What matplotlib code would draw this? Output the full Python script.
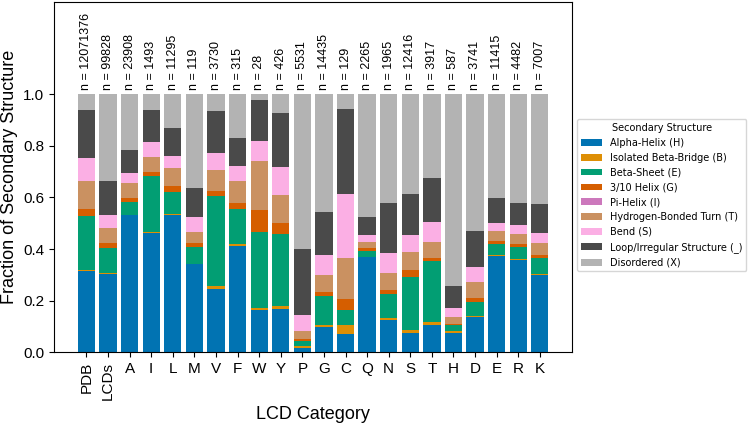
"""
plot.py - stacked secondary structure fractions per LCD category.
"""

import matplotlib
matplotlib.use("Agg")
import matplotlib.pyplot as plt
import numpy as np

# ---------------------------------------------------------------------------
# Data
# ---------------------------------------------------------------------------

categories = ["PDB", "LCDs", "A", "I", "L", "M", "V", "F", "W", "Y", "P",
              "G", "C", "Q", "N", "S", "T", "H", "D", "E", "R", "K"]
counts = [12071376, 99828, 23908, 1493, 11295, 119, 3730, 315, 28, 426, 5531,
          14435, 129, 2265, 1965, 12416, 3917, 587, 3741, 11415, 4482, 7007]

structures = ["Alpha-Helix (H)", "Isolated Beta-Bridge (B)", "Beta-Sheet (E)",
              "3/10 Helix (G)", "Pi-Helix (I)", "Hydrogen-Bonded Turn (T)",
              "Bend (S)", "Loop/Irregular Structure (_)", "Disordered (X)"]
colors = ["#0173b2", "#de8f05", "#029e73", "#d55e00", "#cc78bc",
          "#ca9161", "#fbafe4", "#4a4a4a", "#b3b3b3"]

helix_h  = [.313, .303, .531, .463, .533, .341, .246, .413, .163, .168, .018,
            .099, .072, .368, .124, .076, .105, .076, .137, .374, .356, .300]
bridge_b = [.007, .004, .002, .004, .003, .002, .009, .005, .007, .012, .007,
            .008, .032, .002, .010, .009, .013, .005, .003, .002, .006, .005]
sheet_e  = [.207, .098, .049, .214, .086, .066, .350, .138, .295, .280, .019,
            .112, .059, .024, .092, .206, .237, .025, .054, .045, .047, .059]
helix_g  = [.029, .017, .017, .016, .022, .015, .018, .024, .085, .039, .009,
            .016, .045, .009, .016, .027, .012, .004, .018, .010, .009, .012]
helix_i  = [0.0] * 22
turn_t   = [.109, .058, .056, .061, .070, .043, .083, .085, .192, .111, .028,
            .064, .159, .025, .064, .070, .060, .025, .059, .038, .041, .046]
bend_s   = [.086, .051, .041, .057, .048, .057, .066, .058, .076, .109, .063,
            .079, .245, .026, .080, .065, .076, .036, .060, .032, .033, .040]
loop_c   = [.187, .131, .089, .125, .105, .113, .163, .105, .158, .208, .256,
            .164, .329, .070, .194, .159, .171, .085, .137, .095, .086, .114]
disorder = [.062, .338, .215, .060, .133, .363, .065, .172, .024, .073, .600,
            .458, .059, .476, .420, .388, .326, .744, .532, .404, .422, .424]

series = [helix_h, bridge_b, sheet_e, helix_g, helix_i, turn_t, bend_s,
          loop_c, disorder]

# ---------------------------------------------------------------------------
# Plot
# ---------------------------------------------------------------------------

plt.rcParams["font.family"] = ["Liberation Sans", "DejaVu Sans"]

fig = plt.figure(figsize=(7.5, 4.25), dpi=100)
ax = fig.add_axes([0.072, 0.171, 0.691, 0.824])

x = np.arange(len(categories))
bottom = np.zeros(len(categories))
handles = []
for name, vals, col in zip(structures, series, colors):
    vals = np.array(vals)
    b = ax.bar(x, vals, 0.8, bottom=bottom, color=col, label=name, linewidth=0)
    handles.append(b)
    bottom += vals

for xi, n in zip(x, counts):
    ax.text(xi, 1.015, f"n = {n}", rotation=90, ha="center", va="bottom",
            fontsize=9)

ax.set_xlim(-1.5, len(categories) + 0.5)
ax.set_ylim(0, 1.356)
ax.set_yticks([0.0, 0.2, 0.4, 0.6, 0.8, 1.0])
ax.set_xticks(x)
ax.set_xticklabels(categories, fontsize=11)
for lbl in ax.get_xticklabels()[:2]:
    lbl.set_rotation(90)
ax.tick_params(axis="y", labelsize=11)
ax.set_xlabel("LCD Category", fontsize=13)
ax.set_ylabel("Fraction of Secondary Structure", fontsize=13)

fig.legend(handles=handles, labels=structures, title="Secondary Structure",
           loc="upper left", bbox_to_anchor=(577 / 750, 1 - 119 / 425),
           borderaxespad=0, prop={"family": "DejaVu Sans", "size": 7},
           title_fontproperties={"family": "DejaVu Sans", "size": 7},
           handlelength=2.2, handleheight=0.7)

plt.savefig("out.png", dpi=100)
plt.close()
